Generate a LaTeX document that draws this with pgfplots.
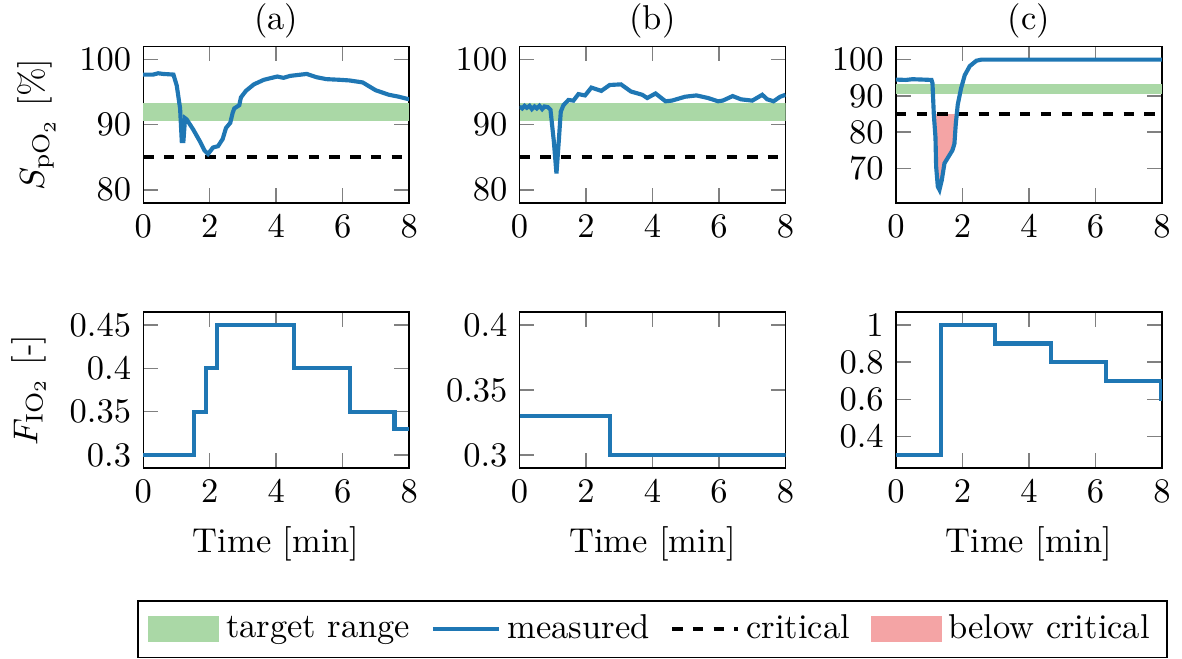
\documentclass[border=0pt]{standalone}
\usepackage{pgfplots}
\pgfplotsset{compat=1.18}
\usepgfplotslibrary{groupplots}

\definecolor{mblue}{RGB}{31,119,180}
\definecolor{tgreen}{RGB}{170,216,166}
\definecolor{bpink}{RGB}{244,164,165}

\pgfplotsset{
  rect legend/.style={legend image code/.code={\fill[##1, draw=none] (0pt,-3.8pt) rectangle (20.5pt,3.8pt);}},
  short line legend/.style={legend image code/.code={\draw[##1] (0pt,0pt) -- (19pt,0pt);}},
  band/.style={fill=tgreen, draw=none, forget plot},
  meas/.style={mblue, line width=1.2pt, forget plot},
  crit/.style={black, dashed, line width=1.1pt, forget plot},
  below/.style={fill=bpink, draw=none, forget plot},
}

\begin{document}
\begin{tikzpicture}
\begin{groupplot}[
    group style={group size=3 by 2, horizontal sep=32pt, vertical sep=31.6pt},
    scale only axis, width=77.1pt, height=45.3pt,
    xmin=0, xmax=8, xtick={0,2,4,6,8},
    tick style={gray, thin},
    title style={inner ysep=1pt, yshift=-4.7pt},
  ]

% ---- SpO2 ----
\nextgroupplot[title={(a)}, ymin=78, ymax=102, ytick={80,90,100},
  ylabel={$S_{\mathrm{pO}_2}$ [\%]}]
\addplot[band] coordinates {(0,90.5) (8,90.5) (8,93.3) (0,93.3)};
\addplot[crit] coordinates {(0,85) (8,85)};
\addplot[meas] coordinates {
  (0,97.7) (0.3,97.7) (0.45,97.9) (0.6,97.8) (0.91,97.7) (1.01,96) (1.11,92.5)
  (1.16,87.5) (1.21,87.5) (1.26,91) (1.31,90.8) (1.50,89.3) (1.70,87.5) (1.85,86)
  (1.95,85.5) (2.10,86.5) (2.25,86.7) (2.39,87.8) (2.49,89.5) (2.62,90.3) (2.69,91.8)
  (2.74,92.5) (2.89,93) (2.94,94.2) (3.09,95.2) (3.33,96.2) (3.63,96.9) (4.03,97.4)
  (4.22,97.2) (4.42,97.5) (4.92,97.8) (5.21,97.3) (5.51,97) (5.91,96.9) (6.20,96.8)
  (6.60,96.5) (6.99,95.3) (7.39,94.6) (7.69,94.3) (8.0,93.9)
};

\nextgroupplot[title={(b)}, ymin=78, ymax=102, ytick={80,90,100}]
\addplot[band] coordinates {(0,90.5) (8,90.5) (8,93.3) (0,93.3)};
\addplot[crit] coordinates {(0,85) (8,85)};
\addplot[meas] coordinates {
  (0,92.8) (0.08,92.5) (0.15,92.9) (0.22,92.6) (0.3,92.9) (0.37,92.4) (0.45,92.8)
  (0.52,92.5) (0.6,92.9) (0.68,92.4) (0.75,92.8) (0.85,92.7) (0.93,92.3) (1.03,87.5)
  (1.11,82.5) (1.18,87.5) (1.24,92) (1.32,93) (1.47,93.8) (1.62,93.7) (1.77,94.7)
  (1.97,94.5) (2.16,95.7) (2.46,95.2) (2.71,96.1) (3.05,96.2) (3.35,95.1) (3.69,94.6)
  (3.84,94.1) (4.09,94.8) (4.39,93.6) (4.58,93.7) (4.98,94.3) (5.32,94.5) (5.67,94.1)
  (5.97,93.6) (6.11,93.7) (6.41,94.4) (6.66,93.9) (7.00,93.7) (7.30,94.6) (7.45,93.9)
  (7.64,93.6) (7.84,94.3) (8.0,94.6)
};

\nextgroupplot[title={(c)}, ymin=60.5, ymax=103.6, ytick={70,80,90,100}]
\addplot[band] coordinates {(0,90.5) (8,90.5) (8,93.3) (0,93.3)};
\addplot[below] coordinates {
  (1.14,85) (1.19,78.6) (1.21,70.5) (1.26,65) (1.31,64.1) (1.38,66.8) (1.46,71.4)
  (1.58,73.2) (1.70,75) (1.76,76.8) (1.80,82.2) (1.83,85)
};
\addplot[crit] coordinates {(0,85) (8,85)};
\addplot[meas] coordinates {
  (0,94.5) (0.3,94.4) (0.5,94.6) (0.8,94.5) (1.07,94.4) (1.10,93.5) (1.14,84.9)
  (1.19,78.6) (1.21,70.5) (1.26,65) (1.31,64.1) (1.38,66.8) (1.46,71.4) (1.58,73.2)
  (1.70,75) (1.76,76.8) (1.80,82.2) (1.86,87.6) (1.96,92.1) (2.07,95.7) (2.22,98.2)
  (2.42,99.7) (2.57,100) (8,100)
};

% ---- FiO2 ----
\nextgroupplot[ymin=0.285, ymax=0.465, ytick={0.3,0.35,0.4,0.45},
  xlabel={Time [min]}, ylabel={$F_{\mathrm{IO}_2}$ [-]}]
\addplot[meas, const plot] coordinates {
  (0,0.3) (1.53,0.35) (1.90,0.4) (2.23,0.45) (4.54,0.4) (6.22,0.35) (7.56,0.33) (8,0.33)
};

\nextgroupplot[ymin=0.29, ymax=0.41, ytick={0.3,0.35,0.4}, xlabel={Time [min]},
  legend columns=4,
  legend style={at={(0.5,-0.845)}, anchor=north,
    /tikz/every even column/.append style={column sep=4pt}}]
\addlegendimage{rect legend, fill=tgreen}
\addlegendimage{short line legend, mblue, line width=1.2pt}
\addlegendimage{short line legend, black, dashed, line width=1.1pt}
\addlegendimage{rect legend, fill=bpink}
\addplot[meas, const plot] coordinates {(0,0.33) (2.71,0.3) (8,0.3)};
\legend{target range, measured, critical, below critical}

\nextgroupplot[ymin=0.23, ymax=1.07, ytick={0.4,0.6,0.8,1}, xlabel={Time [min]}]
\addplot[meas, const plot] coordinates {
  (0,0.3) (1.35,1) (2.99,0.9) (4.66,0.8) (6.32,0.7) (7.98,0.6) (8,0.6)
};
\end{groupplot}
\end{tikzpicture}
\end{document}
